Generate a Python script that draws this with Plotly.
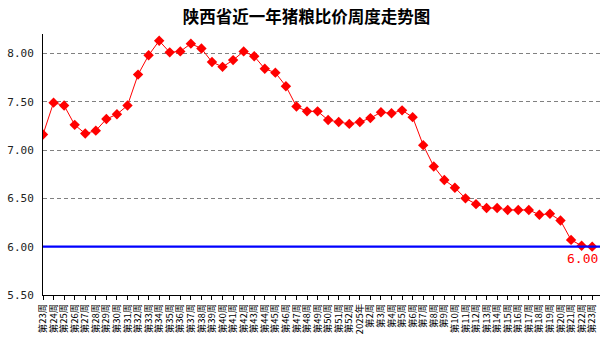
import plotly.graph_objects as go

# Week labels: week 23 of 2024 through week 23 of 2025
weeks = ([f"第{w}周" for w in range(23, 53)] + ["2025年"]
         + [f"第{w}周" for w in range(2, 24)])

# Weekly hog-to-grain price ratio, Shaanxi
ratio = [7.16, 7.49, 7.46, 7.26, 7.17, 7.20, 7.32, 7.37, 7.46, 7.78,
         7.98, 8.13, 8.01, 8.02, 8.10, 8.05, 7.91, 7.86, 7.93, 8.02,
         7.97, 7.84, 7.80, 7.66, 7.45, 7.40, 7.40, 7.31, 7.29, 7.27,
         7.29, 7.33, 7.39, 7.38, 7.41, 7.34, 7.05, 6.83, 6.69, 6.61,
         6.50, 6.44, 6.40, 6.40, 6.38, 6.38, 6.38, 6.33, 6.34, 6.27,
         6.07, 6.01, 6.00]

# Break-even reference ratio
threshold = 6.00

y_ticks = [5.5, 6.0, 6.5, 7.0, 7.5, 8.0]
y_tick_text = [f"{v:.2f}" for v in y_ticks]

# Week labels repeat across the two years, so plot against the week index
idx = list(range(len(weeks)))

fig = go.Figure()

fig.add_trace(go.Scatter(
    x=idx, y=ratio, mode="lines+markers",
    line=dict(color="#FF0000", width=1),
    marker=dict(symbol="diamond", size=8, color="#FF0000"),
    text=weeks, hovertemplate="%{text}: %{y:.2f}<extra></extra>",
    showlegend=False,
))

# Reference line at the threshold value
fig.add_shape(type="line", xref="paper", x0=0, x1=1, yref="y",
              y0=threshold, y1=threshold,
              line=dict(color="#0000FF", width=2.2), layer="above")

fig.add_annotation(x=idx[-1], y=threshold, text=f"{threshold:.2f}",
                   showarrow=False, xanchor="right", yanchor="top",
                   xshift=8, yshift=-2,
                   font=dict(family="DejaVu Sans Mono", size=13, color="#FF0000"))

fig.update_layout(
    width=607, height=344,
    margin=dict(l=41, r=7, t=34, b=49),
    paper_bgcolor="white", plot_bgcolor="white",
    title=dict(text="<b>陕西省近一年猪粮比价周度走势图</b>",
               x=0.505, xanchor="center", y=0.95, yanchor="middle",
               font=dict(family="Noto Sans CJK SC", size=16.5, color="#000000")),
)

fig.update_xaxes(
    range=[0, 52.74], tickmode="array", tickvals=idx, ticktext=weeks,
    showline=True, linecolor="#000000", linewidth=1,
    ticks="outside", ticklen=4, tickcolor="#000000",
    tickangle=-90, showgrid=False, zeroline=False,
    tickfont=dict(family="Noto Sans CJK SC", size=9.5, color="#000000"),
)

fig.update_yaxes(
    range=[5.5, 8.2], tickvals=y_ticks, ticktext=y_tick_text,
    showline=True, linecolor="#000000", linewidth=1,
    ticks="", ticklabelstandoff=6,
    showgrid=True, gridcolor="#808080", gridwidth=1, griddash="4px,3px",
    zeroline=False,
    tickfont=dict(family="DejaVu Sans Mono", size=11, color="#222222"),
)

fig.write_html("out.html")
